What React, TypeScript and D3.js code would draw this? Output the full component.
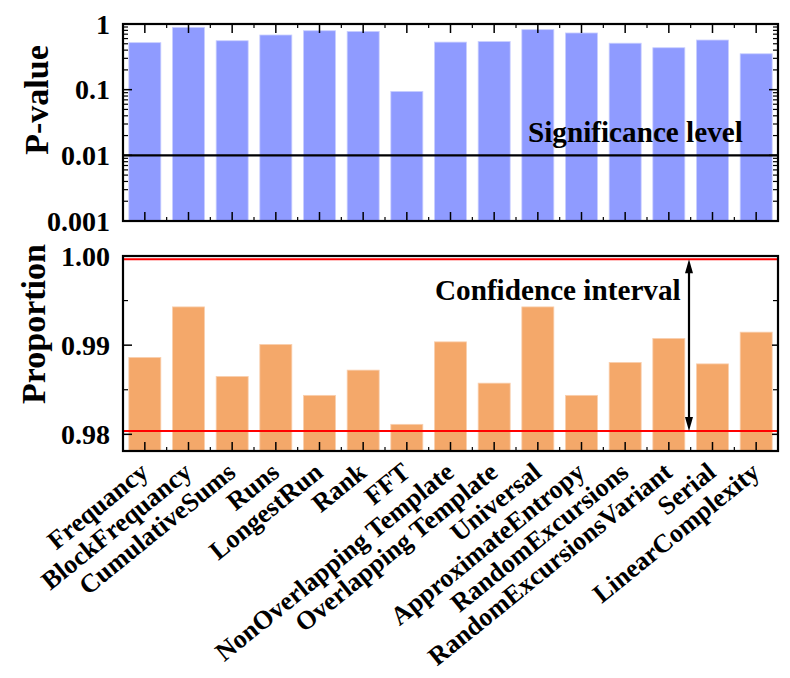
import React from "react";
import * as d3 from "d3";

const categories = [
  "Frequancy",
  "BlockFrequancy",
  "CumulativeSums",
  "Runs",
  "LongestRun",
  "Rank",
  "FFT",
  "NonOverlapping Template",
  "Overlapping Template",
  "Universal",
  "ApproximateEntropy",
  "RandomExcursions",
  "RandomExcursionsVariant",
  "Serial",
  "LinearComplexity",
];

const pValues = [0.52, 0.89, 0.556, 0.68, 0.79, 0.77, 0.094, 0.53, 0.54, 0.82, 0.73, 0.51, 0.435, 0.57, 0.352];
const proportions = [
  0.98862, 0.99429, 0.98649, 0.99008, 0.98437, 0.9872, 0.98112, 0.99037, 0.98574, 0.99429, 0.98437, 0.98806,
  0.99075, 0.9879, 0.99146,
];

const pTicks = [0.001, 0.01, 0.1, 1];
const pTickLabels = ["0.001", "0.01", "0.1", "1"];
const propTicks = [0.98, 0.99, 1.0];
const propTickLabels = ["0.98", "0.99", "1.00"];
const propMinorTicks = [0.985, 0.995];
const significance = 0.01;
const ciLow = 0.98037;
const ciHigh = 0.99963;

const FONT = "'Liberation Serif', 'Times New Roman', serif";
const BLUE = "#8F9BFF";
const ORANGE = "#F4A86A";

export default function App() {
  const left = 123;
  const right = 778;
  const x = d3
    .scaleBand<string>()
    .domain(categories)
    .range([left, right])
    .paddingInner(0.267)
    .paddingOuter(0.1335);
  const step = x.step();

  const yTop = d3.scaleLog().domain([0.001, 1]).range([221, 24]);
  const yBot = d3.scaleLinear().domain([0.97813, 1.0]).range([451, 256]);

  const minorLog: number[] = [];
  for (let e = -3; e < 0; e++) {
    for (let m = 2; m <= 9; m++) minorLog.push(m * Math.pow(10, e));
  }

  const bandEdges = d3.range(1, categories.length).map((i) => left + i * step);
  const centers = categories.map((c) => (x(c) as number) + x.bandwidth() / 2);

  const topT = yTop.range()[1];
  const topB = yTop.range()[0];
  const botT = yBot.range()[1];
  const botB = yBot.range()[0];

  const arrowX = 689;
  const aTop = yBot(ciHigh);
  const aBot = yBot(ciLow);

  return (
    <svg
      width={790}
      height={678}
      style={{ position: "absolute", left: 0, top: 0, background: "#fff" }}
      fontFamily={FONT}
      fontWeight="bold"
    >
      {/* ---------- TOP PANEL ---------- */}
      {categories.map((c, i) => (
        <rect
          key={"tb" + c}
          x={x(c)}
          y={yTop(pValues[i])}
          width={x.bandwidth()}
          height={topB - yTop(pValues[i])}
          fill={BLUE}
          stroke="#c9cfff"
          strokeWidth={0.8}
        />
      ))}
      <line x1={left} x2={right} y1={yTop(significance)} y2={yTop(significance)} stroke="#000" strokeWidth={2.2} />
      <text x={528} y={141.5} fontSize={29.2} fill="#000">
        Significance level
      </text>
      {/* ticks top panel */}
      {pTicks.map((t) => (
        <g key={"pt" + t}>
          <line x1={left} x2={left + 9} y1={yTop(t)} y2={yTop(t)} stroke="#000" strokeWidth={1.5} />
          <line x1={right} x2={right - 9} y1={yTop(t)} y2={yTop(t)} stroke="#000" strokeWidth={1.5} />
        </g>
      ))}
      {minorLog.map((t) => (
        <g key={"pm" + t}>
          <line x1={left} x2={left + 5} y1={yTop(t)} y2={yTop(t)} stroke="#000" strokeWidth={1.2} />
          <line x1={right} x2={right - 5} y1={yTop(t)} y2={yTop(t)} stroke="#000" strokeWidth={1.2} />
        </g>
      ))}
      {centers.map((cx, i) => (
        <g key={"ptc" + i}>
          <line x1={cx} x2={cx} y1={topT} y2={topT + 9} stroke="#000" strokeWidth={1.5} />
          <line x1={cx} x2={cx} y1={topB} y2={topB - 9} stroke="#000" strokeWidth={1.5} />
        </g>
      ))}
      {bandEdges.map((ex, i) => (
        <g key={"pte" + i}>
          <line x1={ex} x2={ex} y1={topT} y2={topT + 4} stroke="#000" strokeWidth={1.2} />
          <line x1={ex} x2={ex} y1={topB} y2={topB - 4} stroke="#000" strokeWidth={1.2} />
        </g>
      ))}
      {pTicks.map((t, i) => (
        <text key={"pl" + t} x={110} y={yTop(t)} dy="0.35em" textAnchor="end" fontSize={28}>
          {pTickLabels[i]}
        </text>
      ))}
      <rect x={left} y={topT} width={right - left} height={topB - topT} fill="none" stroke="#000" strokeWidth={2.2} />
      <text transform={`translate(48,100) rotate(-90)`} textAnchor="middle" fontSize={34}>
        P-value
      </text>

      {/* ---------- BOTTOM PANEL ---------- */}
      {categories.map((c, i) => (
        <rect
          key={"bb" + c}
          x={x(c)}
          y={yBot(proportions[i])}
          width={x.bandwidth()}
          height={botB - yBot(proportions[i])}
          fill={ORANGE}
          stroke="#f9cfae"
          strokeWidth={0.8}
        />
      ))}
      <line x1={left} x2={right} y1={yBot(ciHigh)} y2={yBot(ciHigh)} stroke="#ff0000" strokeWidth={2} />
      <line x1={left} x2={right} y1={yBot(ciLow)} y2={yBot(ciLow)} stroke="#ff0000" strokeWidth={2} />
      <text x={435} y={300} fontSize={29.2} fill="#000">
        Confidence interval
      </text>
      <line x1={arrowX} x2={arrowX} y1={aTop + 8} y2={aBot - 8} stroke="#000" strokeWidth={2.2} />
      <path d={`M${arrowX},${aTop} L${arrowX - 4},${aTop + 14} L${arrowX + 4},${aTop + 14} Z`} fill="#000" />
      <path d={`M${arrowX},${aBot} L${arrowX - 4},${aBot - 14} L${arrowX + 4},${aBot - 14} Z`} fill="#000" />
      {propTicks.map((t) => (
        <g key={"bt" + t}>
          <line x1={left} x2={left + 9} y1={yBot(t)} y2={yBot(t)} stroke="#000" strokeWidth={1.5} />
          <line x1={right} x2={right - 6} y1={yBot(t)} y2={yBot(t)} stroke="#000" strokeWidth={1.5} />
        </g>
      ))}
      {propMinorTicks.map((t) => (
        <g key={"bm" + t}>
          <line x1={left} x2={left + 5} y1={yBot(t)} y2={yBot(t)} stroke="#000" strokeWidth={1.2} />
          <line x1={right} x2={right - 5} y1={yBot(t)} y2={yBot(t)} stroke="#000" strokeWidth={1.2} />
        </g>
      ))}
      {centers.map((cx, i) => (
        <line key={"btc" + i} x1={cx} x2={cx} y1={botB} y2={botB - 9} stroke="#000" strokeWidth={1.5} />
      ))}
      {bandEdges.map((ex, i) => (
        <line key={"bte" + i} x1={ex} x2={ex} y1={botB} y2={botB - 4} stroke="#000" strokeWidth={1.2} />
      ))}
      {propTicks.map((t, i) => (
        <text key={"bl" + t} x={110} y={yBot(t)} dy="0.35em" textAnchor="end" fontSize={28}>
          {propTickLabels[i]}
        </text>
      ))}
      <rect x={left} y={botT} width={right - left} height={botB - botT} fill="none" stroke="#000" strokeWidth={2.2} />
      <text transform={`translate(45,324) rotate(-90)`} textAnchor="middle" fontSize={34}>
        Proportion
      </text>

      {/* category labels */}
      {categories.map((c, i) => (
        <text
          key={"cl" + c}
          transform={`translate(${centers[i] + 5},${botB + 24}) rotate(-39)`}
          textAnchor="end"
          fontSize={26.2}
        >
          {c}
        </text>
      ))}
    </svg>
  );
}
